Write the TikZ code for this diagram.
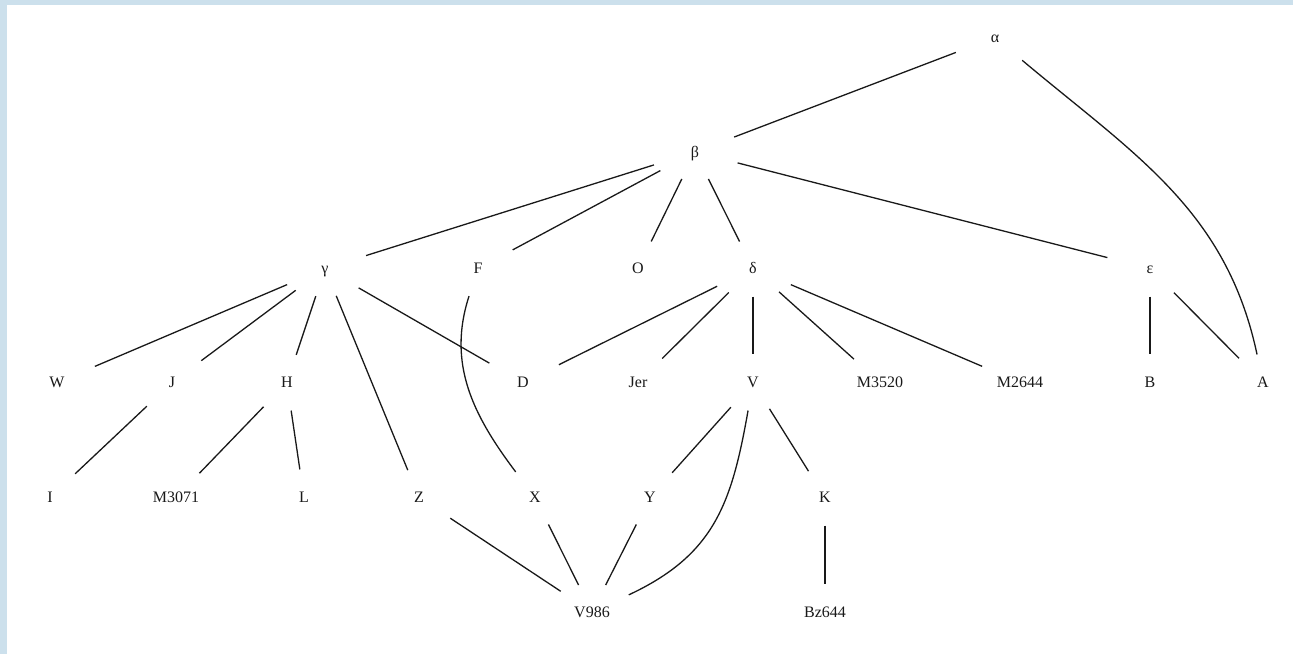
\documentclass[tikz,border=0pt]{standalone}
\usepackage{fontspec}
\setmainfont{Liberation Serif}
\usetikzlibrary{shapes.geometric}
\definecolor{frameblue}{RGB}{204,224,236}
\definecolor{inkc}{RGB}{25,25,25}
\begin{document}
\begin{tikzpicture}[x=1pt,y=1pt,
  tn/.style={ellipse, minimum width=92pt, minimum height=56pt, inner sep=0pt,
    text height=10.6pt, text depth=0pt, font=\fontsize{16}{19}\selectfont, text=inkc},
  edge/.style={draw=inkc, line width=1.3pt}]
\useasboundingbox (0,0) rectangle (1293,654);
\fill[white] (0,0) rectangle (1293,654);
\fill[frameblue] (0,649) rectangle (1293,654);
\fill[frameblue] (0,0) rectangle (7,654);
% row 1-2
\node[tn] (al) at (995,616.5) {α};
\node[tn] (be) at (695,502) {β};
% row 3
\node[tn] (ga) at (325,385.5) {γ};
\node[tn] (F) at (478,385.5) {F};
\node[tn] (O) at (638,385.5) {O};
\node[tn] (de) at (753,385.5) {δ};
\node[tn] (ep) at (1150,385.5) {ε};
% row 4
\node[tn] (W) at (57,271.5) {W};
\node[tn] (J) at (172,271.5) {J};
\node[tn] (H) at (287,271.5) {H};
\node[tn] (D) at (523,271.5) {D};
\node[tn] (Jer) at (638,271.5) {Jer};
\node[tn] (V) at (753,271.5) {V};
\node[tn] (M3520) at (880,271.5) {M3520};
\node[tn] (M2644) at (1020,271.5) {M2644};
\node[tn] (B) at (1150,271.5) {B};
\node[tn] (A) at (1263,271.5) {A};
% row 5
\node[tn] (I) at (50,156.5) {I};
\node[tn] (M3071) at (176,156.5) {M3071};
\node[tn] (L) at (304,156.5) {L};
\node[tn] (Z) at (419,156.5) {Z};
\node[tn] (X) at (535,156.5) {X};
\node[tn] (Y) at (650,156.5) {Y};
\node[tn] (K) at (825,156.5) {K};
% row 6
\node[tn] (V986) at (592,42) {V986};
\node[tn] (Bz644) at (825,42) {Bz644};
% edges
\draw[edge] (al) -- (be);
\draw[edge] (al) to[out=-40,in=102] (A);
\draw[edge] (be) -- (ga);
\draw[edge] (be) -- (F);
\draw[edge] (be) -- (O);
\draw[edge] (be) -- (de);
\draw[edge] (be) -- (ep);
\draw[edge] (ga) -- (W);
\draw[edge] (ga) -- (J);
\draw[edge] (ga) -- (H);
\draw[edge] (ga) -- (Z);
\draw[edge] (ga) -- (D);
\draw[edge] (F) to[out=-108,in=127] (X);
\draw[edge] (de) -- (D);
\draw[edge] (de) -- (Jer);
\draw[edge] (de) -- (V);
\draw[edge] (de) -- (M3520);
\draw[edge] (de) -- (M2644);
\draw[edge] (ep) -- (B);
\draw[edge] (ep) -- (A);
\draw[edge] (J) -- (I);
\draw[edge] (H) -- (M3071);
\draw[edge] (H) -- (L);
\draw[edge] (V) -- (Y);
\draw[edge] (V) to[out=-100,in=25,looseness=1.1] (V986);
\draw[edge] (V) -- (K);
\draw[edge] (Z) -- (V986);
\draw[edge] (X) -- (V986);
\draw[edge] (Y) -- (V986);
\draw[edge] (K) -- (Bz644);
\end{tikzpicture}
\end{document}
